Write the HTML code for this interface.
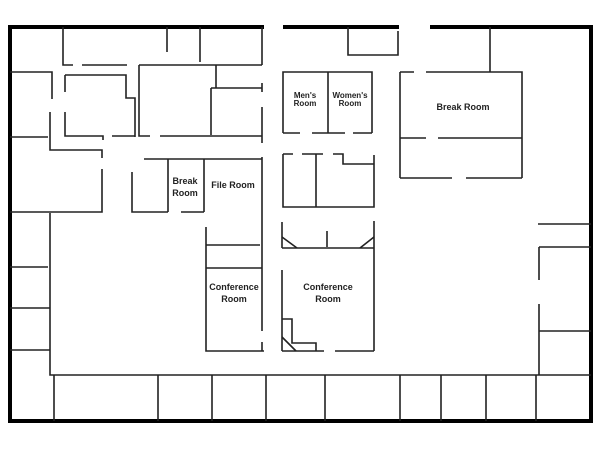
<!DOCTYPE html>
<html><head><style>
html,body{margin:0;padding:0;background:#fff;}
svg{display:block;}
text{font-family:"Liberation Sans",sans-serif;font-weight:bold;fill:#222;text-anchor:middle;}
</style></head><body>
<svg width="600" height="454" viewBox="0 0 600 454" xmlns="http://www.w3.org/2000/svg">
<rect width="600" height="454" fill="#fff"/>
<g stroke="#000" stroke-width="4" fill="none" stroke-linecap="square">
<path d="M10 27 H262 M285 27 H397 M432 27 H591 V421 H10 V27"/>
</g>
<g stroke="#222" stroke-width="1.6" fill="none">
<path d="M63 27 V65 H73 M82 65 H127"/>
<path d="M167 27 V52 M200 27 V62"/>
<path d="M139 65 H262"/>
<path d="M262 27 V65 M262 83 V92 M262 107 V143 M262 157 V331 M262 342 V351"/>
<path d="M10 72 H52 V99 M50 112 V150 H102 V158 M102 169 V212 H10"/>
<path d="M10 137 H48"/>
<path d="M65 75 V92 M65 112 V136 H103 V140 M65 75 H126 V98 H135 V137 M112 136 H135"/>
<path d="M139 65 V136 H150 M160 136 H262"/>
<path d="M216 65 V88 M211 88 H262 M211 88 V135"/>
<path d="M144 159 H262"/>
<path d="M132 172 V212 H168 M168 159 V212 M181 212 H204 M204 159 V212"/>
<path d="M206 227 V351 H264 M206 245 H260 M206 268 H262"/>
<path d="M282 222 V248 M282 270 V351 M282 248 H374 M374 221 V351"/>
<path d="M282 237 L297 248 M360 248 L374 237 M327 231 V247"/>
<path d="M282 351 H324 M335 351 H374"/>
<path d="M282 319 H292 V343 H316 V351 M282 337 L296 351"/>
<path d="M283 133 V72 H372 V133 M328 72 V133"/>
<path d="M283 133 H300 M312 133 H345 M353 133 H372"/>
<path d="M283 154 H293 M302 154 H323 M333 154 H343 V164 H374 M374 155 V207 H283 V154 M316 154 V207"/>
<path d="M348 27 V55 H398 V31"/>
<path d="M400 72 V178 M400 72 H414 M426 72 H522 V178 M490 27 V72"/>
<path d="M400 138 H426 M438 138 H522"/>
<path d="M400 178 H452 M466 178 H522"/>
<path d="M538 224 H591 M539 247 H591 M539 247 V280 M539 304 V375 M539 331 H591"/>
<path d="M50 213 V375 H591"/>
<path d="M10 267 H48 M10 308 H50 M10 350 H50"/>
<path d="M54 375 V421 M158 375 V421 M212 375 V421 M266 375 V421 M325 375 V421 M400 375 V421 M441 375 V421 M486 375 V421 M536 375 V421"/>
</g>
<g font-size="8">
<text x="305" y="98">Men's</text><text x="305" y="106">Room</text>
<text x="350" y="98">Women's</text><text x="350" y="106">Room</text>
</g>
<g font-size="9">
<text x="463" y="110">Break Room</text>
<text x="185" y="184">Break</text><text x="185" y="196">Room</text>
<text x="233" y="188">File Room</text>
<text x="234" y="290">Conference</text><text x="234" y="302">Room</text>
<text x="328" y="290">Conference</text><text x="328" y="302">Room</text>
</g>
</svg>
</body></html>
